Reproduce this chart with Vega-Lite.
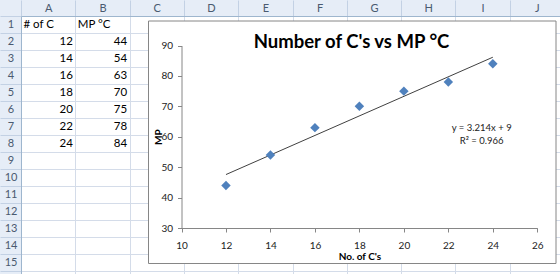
{
  "$schema": "https://vega.github.io/schema/vega-lite/v6.json",
  "width": 543,
  "height": 272,
  "autosize": {"type": "none"},
  "padding": {"left": 21, "top": 16, "right": 0, "bottom": 0},
  "background": "#e6edf7",
  "title": {"text": "Number of C's vs MP °C", "font": "Lato", "fontSize": 18.5, "fontWeight": "bold", "color": "#000000", "anchor": "middle", "frame": "group", "baseline": "middle", "offset": 0, "dx": 59, "dy": 61},
  "datasets": {
    "sheetText": [
      {"col": "A", "row": 1, "text": "# of C"},
      {"col": "B", "row": 1, "text": "MP °C"}
    ],
    "sheetNumbers": [
      {"col": "A", "row": 2, "text": "12"}, {"col": "B", "row": 2, "text": "44"},
      {"col": "A", "row": 3, "text": "14"}, {"col": "B", "row": 3, "text": "54"},
      {"col": "A", "row": 4, "text": "16"}, {"col": "B", "row": 4, "text": "63"},
      {"col": "A", "row": 5, "text": "18"}, {"col": "B", "row": 5, "text": "70"},
      {"col": "A", "row": 6, "text": "20"}, {"col": "B", "row": 6, "text": "75"},
      {"col": "A", "row": 7, "text": "22"}, {"col": "B", "row": 7, "text": "78"},
      {"col": "A", "row": 8, "text": "24"}, {"col": "B", "row": 8, "text": "84"}
    ],
    "points": [
      {"C": 12, "MP": 44}, {"C": 14, "MP": 54}, {"C": 16, "MP": 63}, {"C": 18, "MP": 70},
      {"C": 20, "MP": 75}, {"C": 22, "MP": 78}, {"C": 24, "MP": 84}
    ],
    "fit": [
      {"line": "y = 3.214x + 9\nR² = 0.966"}
    ]
  },
  "layer": [
    {
      "layer": [
        {
          "data": {"name": "sheetText"},
          "mark": {"type": "text", "align": "left", "baseline": "middle", "dx": 2.5, "font": "Lato", "fontSize": 11.5, "color": "#000000"},
          "encoding": {
            "x": {"field": "col", "type": "nominal", "bandPosition": 0,
              "scale": {"domain": ["A", "B", "C", "D", "E", "F", "G", "H", "I", "J"], "paddingInner": 0, "paddingOuter": 0},
              "axis": {"orient": "top", "title": null, "tickBand": "extent", "tickSize": 16, "tickColor": "#c3d1e4", "domainColor": "#9eb6ce", "grid": true, "gridColor": "#d4dce9", "labelAlign": "center", "labelBaseline": "middle", "labelPadding": -8, "labelAngle": 0, "labelColor": "#4a5a70", "labelFont": "Lato", "labelFontSize": 11, "zindex": 0}},
            "y": {"field": "row", "type": "ordinal",
              "scale": {"domain": [1, 2, 3, 4, 5, 6, 7, 8, 9, 10, 11, 12, 13, 14, 15, 16], "paddingInner": 0, "paddingOuter": 0},
              "axis": {"orient": "left", "title": null, "values": [1, 2, 3, 4, 5, 6, 7, 8, 9, 10, 11, 12, 13, 14, 15], "tickBand": "extent", "tickSize": 21, "tickColor": "#c3d1e4", "domainColor": "#9eb6ce", "grid": true, "gridColor": "#d4dce9", "labelAlign": "center", "labelBaseline": "middle", "labelPadding": -10.5, "labelColor": "#4a5a70", "labelFont": "Lato", "labelFontSize": 11, "zindex": 0}},
            "text": {"field": "text"}
          }
        },
        {
          "data": {"name": "sheetNumbers"},
          "mark": {"type": "text", "align": "right", "baseline": "middle", "dx": -2.5, "font": "Lato", "fontSize": 11.5, "color": "#000000"},
          "encoding": {
            "x": {"field": "col", "type": "nominal", "bandPosition": 1},
            "y": {"field": "row", "type": "ordinal"},
            "text": {"field": "text"}
          }
        }
      ]
    },
    {
      "data": {"values": [{"chart": "Number of C's vs MP °C"}]},
      "mark": {"type": "rect", "fill": "#ffffff", "stroke": "#868686", "strokeWidth": 1},
      "encoding": {
        "x": {"field": "chart", "type": "nominal", "scale": {"range": [127.5, 535], "paddingInner": 0, "paddingOuter": 0}, "axis": null},
        "y": {"field": "chart", "type": "nominal", "scale": {"range": [5, 247.5], "paddingInner": 0, "paddingOuter": 0}, "axis": null}
      }
    },
    {
      "layer": [
        {
          "data": {"name": "points"},
          "transform": [{"regression": "MP", "on": "C"}],
          "mark": {"type": "line", "color": "#404040", "strokeWidth": 1},
          "encoding": {
            "x": {"field": "C", "type": "quantitative",
              "scale": {"domain": [10, 26], "range": [160.5, 516.3], "nice": false, "zero": false},
              "axis": {"orient": "bottom", "offset": -60, "values": [10, 12, 14, 16, 18, 20, 22, 24, 26], "grid": false, "domainColor": "#868686", "tickColor": "#868686", "tickSize": 4, "labelFont": "Lato", "labelFontSize": 10, "labelColor": "#222222", "labelPadding": 8, "labelFlush": false, "labelOverlap": false, "title": "No. of C's", "titleFont": "Lato", "titleFontSize": 10, "titleFontWeight": "bold", "titleColor": "#000000", "titlePadding": 1, "zindex": 1}},
            "y": {"field": "MP", "type": "quantitative",
              "scale": {"domain": [30, 90], "range": [212, 29.5], "nice": false, "zero": false},
              "axis": {"orient": "left", "offset": -160.5, "values": [30, 40, 50, 60, 70, 80, 90], "grid": false, "domainColor": "#868686", "tickColor": "#868686", "tickSize": 4, "labelFont": "Lato", "labelFontSize": 10, "labelColor": "#222222", "labelPadding": 5, "labelFlush": false, "labelOverlap": false, "title": "MP", "titleFont": "Lato", "titleFontSize": 10, "titleFontWeight": "bold", "titleColor": "#000000", "titleX": -23.5, "titleBaseline": "middle", "titleAngle": -90, "zindex": 1}}
          }
        },
        {
          "data": {"name": "points"},
          "mark": {"type": "point", "shape": "diamond", "filled": true, "size": 90, "color": "#4f81bd", "opacity": 1},
          "encoding": {
            "x": {"field": "C", "type": "quantitative"},
            "y": {"field": "MP", "type": "quantitative"}
          }
        },
        {
          "data": {"name": "fit"},
          "mark": {"type": "text", "font": "Lato", "fontSize": 9.5, "lineHeight": 13, "lineBreak": "\n", "align": "center", "baseline": "middle", "color": "#222222"},
          "encoding": {
            "x": {"datum": 23.5, "type": "quantitative"},
            "y": {"datum": 62.9, "type": "quantitative"},
            "text": {"field": "line", "type": "nominal"}
          }
        }
      ]
    }
  ],
  "resolve": {"scale": {"x": "independent", "y": "independent"}, "axis": {"x": "independent", "y": "independent"}},
  "config": {"view": {"fill": "#ffffff", "stroke": null}}
}
